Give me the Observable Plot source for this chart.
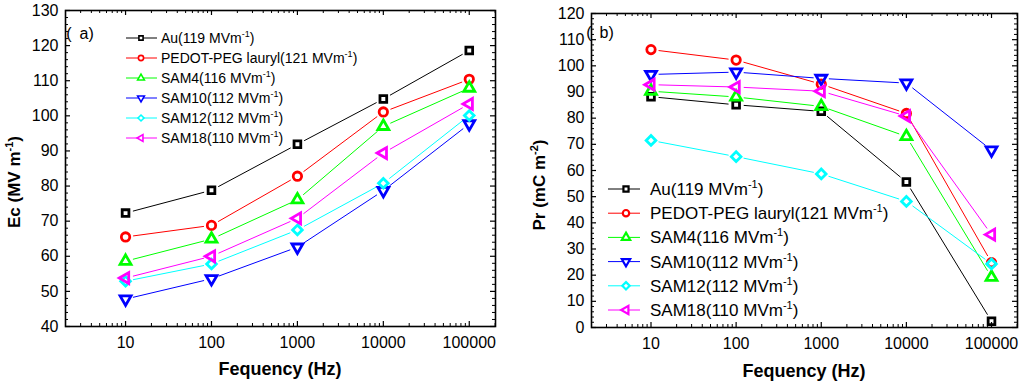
<!DOCTYPE html>
<html><head><meta charset="utf-8">
<script src="https://cdn.jsdelivr.net/npm/d3@7"></script>
<script src="https://cdn.jsdelivr.net/npm/@observablehq/plot@0.6"></script>
<style>
body{margin:0;background:#fff;}
#wrap{display:flex;width:1024px;height:382px;}
#wrap svg{display:block;}
</style></head><body><div id="wrap"></div>
<script>
// ---------- data ----------
const freq = [10, 100, 1000, 10000, 100000];
const freqLabels = ["10", "100", "1000", "10000", "100000"];
const seriesNames = ["Au", "PEDOT-PEG lauryl", "SAM4", "SAM10", "SAM12", "SAM18"];
const fieldValues = ["119", "121", "116", "112", "112", "110"];
const seriesColors = ["#000000", "#ff0000", "#00ff00", "#0000ff", "#00ffff", "#ff00ff"];
const seriesSymbols = ["square", "circle", "up", "down", "diamond", "left"];

// Panel (a): Ec (MV m-1)
const ecAu    = [72.3, 78.8, 91.9, 104.8, 118.6];
const ecPedot = [65.5, 68.8, 82.8, 101.1, 110.4];
const ecSam4  = [58.6, 64.9, 76.1, 97.0, 107.9];
const ecSam10 = [47.8, 53.6, 62.6, 78.7, 97.7];
const ecSam12 = [52.9, 57.8, 67.5, 80.8, 100.1];
const ecSam18 = [53.8, 60.0, 70.8, 89.4, 103.4];

// Panel (b): Pr (mC m-2)
const prAu    = [88.2, 85.1, 82.6, 55.6, 2.4];
const prPedot = [106.2, 102.2, 93.0, 81.8, 24.8];
const prSam4  = [90.3, 88.1, 84.5, 73.0, 19.2];
const prSam10 = [96.7, 97.6, 95.2, 93.4, 67.8];
const prSam12 = [71.5, 65.3, 58.7, 48.2, 24.3];
const prSam18 = [92.8, 91.9, 90.3, 80.8, 35.5];

const ecTicks = [40, 50, 60, 70, 80, 90, 100, 110, 120, 130];
const prTicks = [0, 10, 20, 30, 40, 50, 60, 70, 80, 90, 100, 110, 120];

// ---------- helpers ----------
function makeSymbol(kind) {
  return {draw(ctx, size) {
    const r = Math.sqrt(size / Math.PI);
    if (kind === "square") {
      const a = 0.8 * r;
      ctx.moveTo(-a, -a); ctx.lineTo(a, -a); ctx.lineTo(a, a); ctx.lineTo(-a, a); ctx.closePath();
    } else if (kind === "circle") {
      ctx.moveTo(r, 0); ctx.arc(0, 0, r, 0, 2 * Math.PI);
    } else if (kind === "diamond") {
      const a = 1.15 * r;
      ctx.moveTo(0, -a); ctx.lineTo(a, 0); ctx.lineTo(0, a); ctx.lineTo(-a, 0); ctx.closePath();
    } else {
      const R = 1.5 * r;
      const base = {up: -90, down: 90, left: 180}[kind];
      for (let k = 0; k < 3; k++) {
        const t = (base + 120 * k) * Math.PI / 180;
        const px = R * Math.cos(t), py = R * Math.sin(t);
        if (k === 0) ctx.moveTo(px, py); else ctx.lineTo(px, py);
      }
      ctx.closePath();
    }
  }};
}
const symbols = seriesSymbols.map(makeSymbol);

const xDomain = [2, 2.02e5];
const xMinor = [];
for (let e = 0; e <= 5; e++) for (let m = 2; m <= 9; m++) {
  const v = m * Math.pow(10, e);
  if (v > xDomain[0] && v < xDomain[1]) xMinor.push(v);
}
const FONT = "'Liberation Sans', Arial, Helvetica, sans-serif";

function panel(cfg) {
  const {seriesValues, yDomain, yTicks, ml, mr, mt, mb} = cfg;
  const W = 512 - ml - mr, H = 382 - mt - mb;
  const yMinor = d3.range(yDomain[0], yDomain[1] + 0.001, 2).filter(v => !yTicks.includes(v));
  const marks = [];
  // inward ticks
  marks.push(Plot.tickX(freq, {x: d => d, insetTop: H - 5, strokeWidth: 1.2}));
  marks.push(Plot.tickX(freq, {x: d => d, insetBottom: H - 5, strokeWidth: 1.2}));
  marks.push(Plot.tickX(xMinor, {x: d => d, insetTop: H - 3, strokeWidth: 1}));
  marks.push(Plot.tickX(xMinor, {x: d => d, insetBottom: H - 3, strokeWidth: 1}));
  marks.push(Plot.tickY(yTicks, {y: d => d, insetRight: W - 5, strokeWidth: 1.2}));
  marks.push(Plot.tickY(yTicks, {y: d => d, insetLeft: W - 5, strokeWidth: 1.2}));
  marks.push(Plot.tickY(yMinor, {y: d => d, insetRight: W - 3, strokeWidth: 1}));
  marks.push(Plot.tickY(yMinor, {y: d => d, insetLeft: W - 3, strokeWidth: 1}));
  marks.push(Plot.frame({stroke: "#000", strokeWidth: 1.6}));
  seriesValues.forEach((vals, i) => {
    const segs = d3.range(freq.length - 1).map(j => ({x1: freq[j], y1: vals[j], x2: freq[j + 1], y2: vals[j + 1]}));
    marks.push(Plot.arrow(segs, {x1: "x1", y1: "y1", x2: "x2", y2: "y2", stroke: seriesColors[i], strokeWidth: 1, headLength: 0, inset: 8}));
  });
  seriesValues.forEach((vals, i) => {
    marks.push(Plot.dot(vals, {x: (d, j) => freq[j], y: d => d, symbol: symbols[i], r: 4.2,
      stroke: seriesColors[i], strokeWidth: 2.8, fill: "none"}));
  });
  marks.push(Plot.axisX({ticks: freq, tickSize: 0, tickPadding: 10, tickFormat: d => freqLabels[freq.indexOf(d)], fontSize: 16, label: null}));
  marks.push(Plot.axisY({ticks: yTicks, tickSize: 0, tickPadding: 7, tickFormat: d => String(d), fontSize: 16, label: null}));
  return Plot.plot({
    width: 512, height: 382,
    marginLeft: ml, marginRight: mr, marginTop: mt, marginBottom: mb,
    x: {type: "log", domain: xDomain},
    y: {domain: yDomain},
    style: {fontFamily: FONT, fontSize: "16px", color: "#000", background: "#fff", overflow: "visible"},
    marks
  });
}

function supText(g, {x, y, text, sup, after, size, supSize, weight, anchor, transform}) {
  const t = g.append("text")
    .attr("font-family", FONT).attr("font-size", size).attr("fill", "#000")
    .attr("font-weight", weight || "normal").attr("text-anchor", anchor || "start");
  if (transform) t.attr("transform", transform); else t.attr("x", x).attr("y", y);
  t.append("tspan").text(text);
  const shift = Math.round(size * 0.42);
  t.append("tspan").attr("font-size", supSize).attr("dy", -shift).text(sup);
  t.append("tspan").attr("dy", shift).text(after);
  return t;
}

function panelTag(g, x, y, letter) {
  const t = g.append("text").attr("x", x).attr("y", y).attr("font-family", FONT).attr("font-size", 16);
  t.append("tspan").text("(");
  t.append("tspan").attr("dx", 8).text(letter + ")");
}

function legend(svg, o) {
  const g = d3.select(svg).append("g");
  seriesNames.forEach((name, i) => {
    const cy = o.y0 + o.dy * i;
    g.append("line").attr("x1", o.lx1).attr("x2", o.lx2).attr("y1", cy).attr("y2", cy)
      .attr("stroke", seriesColors[i]).attr("stroke-width", 1);
    const p = d3.path();
    symbols[i].draw(p, Math.PI * o.r * o.r);
    g.append("path").attr("d", p.toString()).attr("transform", `translate(${o.mx},${cy})`)
      .attr("fill", "#fff").attr("stroke", seriesColors[i]).attr("stroke-width", o.sw);
    supText(g, {x: o.tx, y: cy + o.base, text: `${name}(${fieldValues[i]} MVm`, sup: "-1", after: ")",
      size: o.size, supSize: o.supSize});
  });
}

// ---------- panel a ----------
const svgA = panel({seriesValues: [ecAu, ecPedot, ecSam4, ecSam10, ecSam12, ecSam18],
  yDomain: [40, 130], yTicks: ecTicks, ml: 65, mr: 17, mt: 10, mb: 56});
// ---------- panel b ----------
const svgB = panel({seriesValues: [prAu, prPedot, prSam4, prSam10, prSam12, prSam18],
  yDomain: [0, 120], yTicks: prTicks, ml: 79, mr: 7, mt: 13, mb: 55});

document.getElementById("wrap").append(svgA, svgB);

// titles
const gA = d3.select(svgA).append("g");
gA.append("text").attr("x", 280).attr("y", 375).attr("text-anchor", "middle")
  .attr("font-family", FONT).attr("font-size", 18).attr("font-weight", "bold").text("Fequency (Hz)");
supText(gA, {text: "Ec (MV m", sup: "-1", after: ")", size: 17, supSize: 11, weight: "bold", anchor: "middle",
  transform: "translate(20,182) rotate(-90)"});
panelTag(gA, 80, 39, "a");
legend(svgA, {y0: 38, dy: 20, lx1: 126, lx2: 157, mx: 141, tx: 161, r: 2.6, sw: 1.6, size: 14, supSize: 9, base: 5});

const gB = d3.select(svgB).append("g");
gB.append("text").attr("x", 292).attr("y", 377).attr("text-anchor", "middle")
  .attr("font-family", FONT).attr("font-size", 18).attr("font-weight", "bold").text("Fequency (Hz)");
supText(gB, {text: "Pr (mC m", sup: "-2", after: ")", size: 17, supSize: 11, weight: "bold", anchor: "middle",
  transform: "translate(33,185) rotate(-90)"});
panelTag(gB, 88, 38, "b");
legend(svgB, {y0: 189, dy: 24.2, lx1: 96, lx2: 128, mx: 114, tx: 138, r: 3.2, sw: 2.2, size: 17, supSize: 11, base: 6});
</script></body></html>
